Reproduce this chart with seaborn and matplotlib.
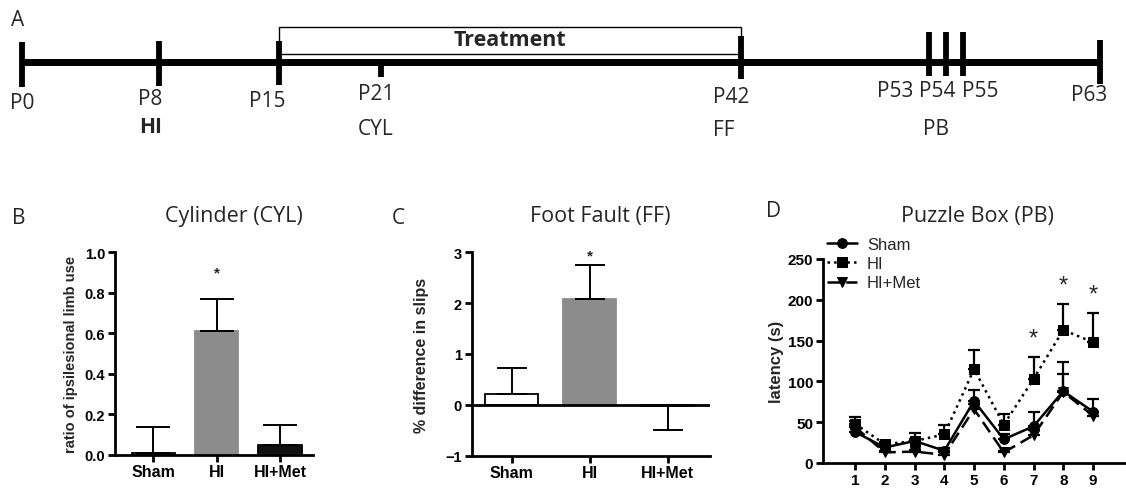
import numpy as np
import matplotlib
matplotlib.use("Agg")
import matplotlib.pyplot as plt
from matplotlib.patches import Rectangle
import seaborn as sns

# ---- panel A: timeline ----
days = [0, 8, 15, 21, 42, 53, 54, 55, 63]
day_labels = ["P0", "P8", "P15", "P21", "P42", "P53", "P54", "P55", "P63"]
event_days = [8, 21, 42, 54]
event_labels = ["HI", "CYL", "FF", "PB"]
treatment_days = [15, 42]

# ---- panels B, C: bar charts ----
groups = ["Sham", "HI", "HI+Met"]
cyl_mean = [0.01, 0.61, 0.048]
cyl_sem = [0.125, 0.16, 0.10]
ff_mean = [0.21, 2.08, -0.02]
ff_sem = [0.52, 0.67, 0.48]

# ---- panel D: puzzle box latency ----
trials = [1, 2, 3, 4, 5, 6, 7, 8, 9]
pb_sham = [38, 19, 27, 15, 76, 29, 45, 88, 63]
pb_sham_sem = [7, 3, 3, 3, 14, 6, 18, 21, 16]
pb_hi = [48, 23, 27, 35, 115, 47, 103, 163, 148]
pb_hi_sem = [8, 3, 10, 11, 23, 13, 27, 32, 36]
pb_met = [44, 13, 14, 10, 66, 13, 34, 87, 58]
pb_met_sem = [8, 2, 2, 3, 6, 2, 6, 37, 4]
sig_trials = [7, 8, 9]

W, H = 1126, 489
sns.set_style("white")
plt.rcParams["font.family"] = ["Liberation Sans", "DejaVu Sans"]
TITLE_FONT = ["Open Sans", "DejaVu Sans"]

fig = plt.figure(figsize=(W / 100, H / 100), dpi=100)


def fig_text(x, y, s, **kw):
    fig.text(x / W, 1 - y / H, s, ha="center", va="center", **kw)


def px_axes(left, top, right, bottom):
    return fig.add_axes([left / W, 1 - bottom / H, (right - left) / W, (bottom - top) / H])


def style_axes(ax, size):
    sns.despine(ax=ax)
    for s in ["left", "bottom"]:
        ax.spines[s].set_linewidth(2.0)
        ax.spines[s].set_color("black")
    ax.tick_params(axis="both", direction="out", width=2.0, length=5,
                   labelsize=size, colors="black", left=True, bottom=True, pad=2)
    for lbl in ax.get_xticklabels() + ax.get_yticklabels():
        lbl.set_fontweight("bold")


# ================= A =================
axa = px_axes(0, 0, W, 160)
axa.set_xlim(-22 / (1078 / 63), 63 + 26 / (1078 / 63))
axa.set_ylim(160, 0)
axa.axis("off")

tick_span = {0: (43, 88), 8: (42, 87), 15: (42, 86), 21: (63, 78), 42: (37, 80),
             53: (33, 77), 54: (33, 77), 55: (33, 77), 63: (41, 85)}
label_y = {0: 104, 8: 100, 15: 102, 21: 95, 42: 98, 53: 92, 54: 92, 55: 92, 63: 96}
label_dx = {0: 0, 8: -6, 15: -8, 21: -4, 42: -7, 53: -24, 54: -6, 55: 12, 63: -8}
event_y = {8: 128, 21: 130, 42: 131, 54: 130}
event_dx = {8: -6, 21: -4, 42: -12, 54: -7}

axa.plot([days[0], days[-1]], [63, 63], color="black", lw=5, solid_capstyle="butt")
for d, lab in zip(days, day_labels):
    y0, y1 = tick_span[d]
    axa.plot([d, d], [y0, y1], color="black", lw=4.2, solid_capstyle="butt")
    axa.annotate(lab, xy=(d, label_y[d]), xytext=(label_dx[d], 0), textcoords="offset points",
                 ha="center", va="center", fontsize=15, family=TITLE_FONT)
for d, lab in zip(event_days, event_labels):
    axa.annotate(lab, xy=(d, event_y[d]), xytext=(event_dx[d], 0), textcoords="offset points",
                 ha="center", va="center", fontsize=15, family=TITLE_FONT,
                 fontweight="bold" if lab == "HI" else "normal")
t0, t1 = treatment_days
axa.add_patch(Rectangle((t0, 28), t1 - t0, 27, fill=False, edgecolor="black", lw=1.0))
axa.text((t0 + t1) / 2, 41, "Treatment", ha="center", va="center", fontsize=15.5,
         fontweight="bold", family=TITLE_FONT)
fig_text(18, 20, "A", fontsize=15, family=TITLE_FONT)

bar_colors = ["white", "#8c8c8c", "#111111"]
edge_colors = ["black", "#8c8c8c", "black"]


def bar_panel(ax, mean, sem, capsize):
    sns.barplot(x=groups, y=mean, hue=groups, palette=bar_colors, width=0.68,
                legend=False, ax=ax, linewidth=1.3)
    for patch, ec in zip(ax.patches, edge_colors):
        patch.set_edgecolor(ec)
    mean = np.array(mean)
    sem = np.array(sem)
    lower = np.where(mean < 0, sem, 0)
    upper = np.where(mean < 0, 0, sem)
    ax.errorbar(np.arange(len(groups)), mean, yerr=[lower, upper], fmt="none",
                ecolor="black", elinewidth=1.4, capsize=capsize, capthick=1.4, zorder=1)


# ================= B =================
axb = px_axes(115, 253.3, 313, 455.7)
bar_panel(axb, cyl_mean, cyl_sem, 12)
axb.set_ylim(0, 1.0)
axb.set_xlim(-0.6, 2.52)
axb.set_yticks([0, 0.2, 0.4, 0.6, 0.8, 1.0])
axb.set_yticklabels(["0.0", "0.2", "0.4", "0.6", "0.8", "1.0"])
style_axes(axb, 10.5)
for lbl in axb.get_xticklabels():
    lbl.set_fontsize(11.5)
axb.set_ylabel("ratio of ipsilesional limb use", fontsize=10.5, fontweight="bold", labelpad=5)
axb.annotate("*", xy=(1, cyl_mean[1] + cyl_sem[1]), xytext=(0, 14), textcoords="offset points",
             ha="center", va="bottom", fontsize=11, fontweight="bold")
fig_text(19, 218, "B", fontsize=15, family=TITLE_FONT)
fig_text(234, 217, "Cylinder (CYL)", fontsize=15.5, family=TITLE_FONT)

# ================= C =================
axc = px_axes(471.7, 253.3, 710, 456.7)
bar_panel(axc, ff_mean, ff_sem, 11)
axc.set_ylim(-1, 3)
axc.set_xlim(-0.51, 2.54)
axc.set_yticks([-1, 0, 1, 2, 3])
axc.axhline(0, color="black", lw=2.0, zorder=3)
style_axes(axc, 10.5)
for lbl in axc.get_xticklabels():
    lbl.set_fontsize(11.5)
axc.set_ylabel("% difference in slips", fontsize=11.5, fontweight="bold", labelpad=12)
axc.annotate("*", xy=(1, ff_mean[1] + ff_sem[1]), xytext=(0, 2), textcoords="offset points",
             ha="center", va="bottom", fontsize=11, fontweight="bold")
fig_text(398, 218, "C", fontsize=15, family=TITLE_FONT)
fig_text(600, 217, "Foot Fault (FF)", fontsize=15.5, family=TITLE_FONT)

# ================= D =================
axd = px_axes(823, 260, W, 464)
series = [("Sham", pb_sham, pb_sham_sem, "o", "-"),
          ("HI", pb_hi, pb_hi_sem, "s", ":"),
          ("HI+Met", pb_met, pb_met_sem, "v", (0, (5, 2.5)))]
for name, vals, sem, mk, ls in series:
    sns.lineplot(x=trials, y=vals, ax=axd, color="black", marker=mk, linestyle=ls,
                 markersize=7, markeredgecolor="black", lw=1.8, label=name)
    axd.errorbar(trials, vals, yerr=[np.zeros(len(sem)), sem], fmt="none", ecolor="black",
                 elinewidth=1.6, capsize=4, capthick=1.6)
axd.set_xlim(-0.08, 10.11)
axd.set_ylim(0, 250)
axd.set_xticks(trials)
axd.set_yticks([0, 50, 100, 150, 200, 250])
style_axes(axd, 11)
axd.set_xlabel("")
axd.set_ylabel("latency (s)", fontsize=12, fontweight="bold", labelpad=3)
hi_top = np.array(pb_hi) + np.array(pb_hi_sem)
for t in sig_trials:
    axd.annotate("*", xy=(t, hi_top[t - 1]), xytext=(0, 5), textcoords="offset points",
                 ha="center", va="bottom", fontsize=17)
axd.legend(loc="upper left", bbox_to_anchor=(827 / W, 1 - 238 / H), bbox_transform=fig.transFigure,
           frameon=False, fontsize=12, handlelength=1.8, handletextpad=0.6,
           labelspacing=0.25, borderpad=0, borderaxespad=0)
fig_text(773, 212, "D", fontsize=15, family=TITLE_FONT)
fig_text(977, 217, "Puzzle Box (PB)", fontsize=15.5, family=TITLE_FONT)

fig.savefig("out.png", dpi=100)
